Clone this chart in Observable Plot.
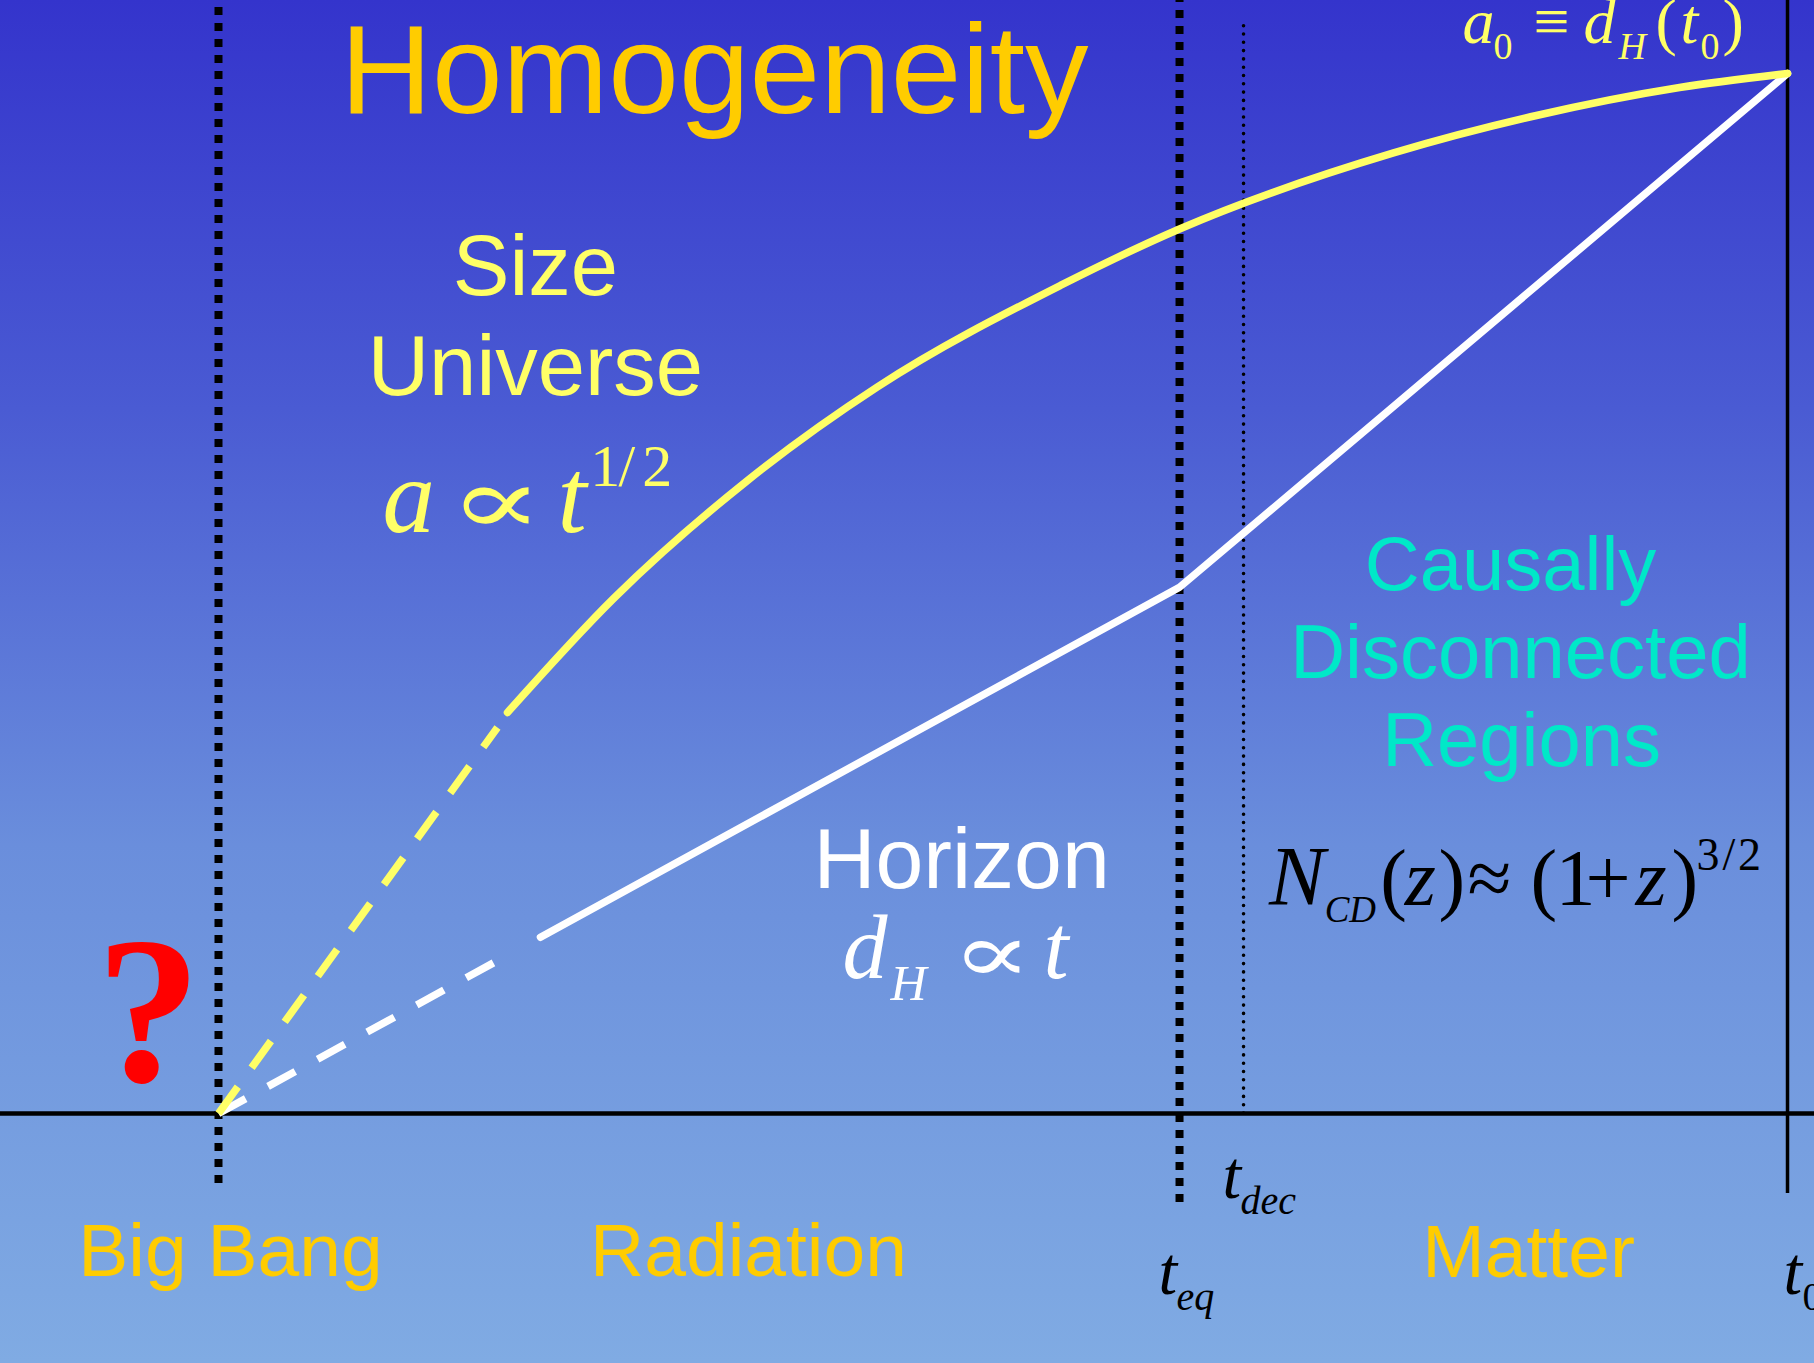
<!DOCTYPE html>
<html>
<head>
<meta charset="utf-8">
<script src="https://cdn.jsdelivr.net/npm/d3@7"></script>
<script src="https://cdn.jsdelivr.net/npm/@observablehq/plot@0.6"></script>
<style>
  html, body { margin: 0; padding: 0; background: #80abe3; overflow: hidden; }
  #chart svg { display: block; }
</style>
</head>
<body>
<div id="chart"></div>
<script>
// ---------- data (time in units where Big Bang = 0 and t0 = 100; size with a0 = 100) ----------
const epochNames = ["Big Bang", "t_eq", "t_dec", "t_0"];
const epochTime = [0, 61.25, 65.33, 100];

// Size of the universe: early (dashed) extrapolation, then solid curve
const sizeEarlyTime = [0, 17.78];
const sizeEarlyValue = [0, 37.12];
const sizeTime  = [18.42, 25.18, 33.72, 42.0, 53.66, 61.25, 74.89, 84.0, 93.12, 100];
const sizeValue = [38.56, 49.52, 60.87, 69.87, 79.62, 85.05, 92.36, 95.96, 98.65, 100];

// Horizon: early (dashed) part, radiation era line, matter era line
const horizonEarlyTime = [0, 17.97];
const horizonEarlyValue = [0, 14.85];
const horizonTime  = [20.52, 61.25, 100];
const horizonValue = [16.95, 50.6, 100];

const eraNames = ["Big Bang", "Radiation", "Matter"];
const regionLines = ["Causally", "Disconnected", "Regions"];
const sizeLines = ["Size", "Universe"];

// ---------- derived tables ----------
const sizeEarly = sizeEarlyTime.map((t, i) => ({t, a: sizeEarlyValue[i]}));
const sizeCurve = sizeTime.map((t, i) => ({t, a: sizeValue[i]}));
const horizonEarly = horizonEarlyTime.map((t, i) => ({t, a: horizonEarlyValue[i]}));
const horizon = horizonTime.map((t, i) => ({t, a: horizonValue[i]}));

// ---------- annotation layout ----------
const GOLD = "#ffcc00", YEL = "#ffff66", CYAN = "#00e8c8";
const F = {
  sans: {fontFamily: "'Liberation Sans', Arial, sans-serif"},
  serif: {fontFamily: "'Liberation Serif', 'Times New Roman', serif"},
  sym: {fontFamily: "'DejaVu Serif', serif"},
  it: {fontFamily: "'Liberation Serif', 'Times New Roman', serif", fontStyle: "italic"},
  bold: {fontFamily: "'Liberation Serif', 'Times New Roman', serif", fontWeight: "bold"}
};
const labels = [
  {text: "Homogeneity", t: 31.6, a: 96.2, size: 127, f: "sans", fill: GOLD, anchor: "middle"},
  {text: sizeLines[0], t: 20.2, a: 78.75, size: 85, f: "sans", fill: YEL, anchor: "middle"},
  {text: sizeLines[1], t: 20.2, a: 69.13, size: 85, f: "sans", fill: YEL, anchor: "middle"},
  {text: "a", t: 10.45, a: 55.87, size: 105, f: "it", fill: YEL},
  {text: "∝", t: 14.66, a: 55.72, size: 95, f: "sym", fill: YEL, sx: 1.48},
  {text: "t", t: 21.61, a: 55.87, size: 105, f: "it", fill: YEL},
  {text: "1", t: 23.7, a: 60.3, size: 60, f: "serif", fill: YEL},
  {text: "/", t: 25.5, a: 60.3, size: 60, f: "serif", fill: YEL},
  {text: "2", t: 27.0, a: 60.3, size: 60, f: "serif", fill: YEL},
  {text: "Horizon", t: 47.36, a: 21.73, size: 86, f: "sans", fill: "white", anchor: "middle"},
  {text: "d", t: 39.77, a: 12.98, size: 90, f: "it", fill: "white"},
  {text: "H", t: 42.83, a: 10.87, size: 50, f: "it", fill: "white"},
  {text: "∝", t: 46.72, a: 12.69, size: 84, f: "sym", fill: "white", sx: 1.42},
  {text: "t", t: 52.58, a: 12.98, size: 90, f: "it", fill: "white"},
  {text: regionLines[0], t: 82.35, a: 50.29, size: 76, f: "sans", fill: CYAN, anchor: "middle"},
  {text: regionLines[1], t: 82.98, a: 41.92, size: 76, f: "sans", fill: CYAN, anchor: "middle"},
  {text: regionLines[2], t: 83.05, a: 33.37, size: 76, f: "sans", fill: CYAN, anchor: "middle"},
  {text: "N", t: 66.95, a: 20.0, size: 84, f: "it", fill: "black"},
  {text: "CD", t: 70.5, a: 18.4, size: 37, f: "it", fill: "black"},
  {text: "(", t: 74.05, a: 20.0, size: 80, f: "serif", fill: "black"},
  {text: "z", t: 75.6, a: 20.0, size: 80, f: "it", fill: "black"},
  {text: ")", t: 77.76, a: 20.0, size: 80, f: "serif", fill: "black"},
  {text: "≈", t: 79.6, a: 20.0, size: 80, f: "serif", fill: "black"},
  {text: "(", t: 83.62, a: 20.0, size: 80, f: "serif", fill: "black"},
  {text: "1", t: 85.21, a: 20.0, size: 80, f: "serif", fill: "black"},
  {text: "+", t: 87.13, a: 20.0, size: 80, f: "serif", fill: "black"},
  {text: "z", t: 90.31, a: 20.0, size: 80, f: "it", fill: "black"},
  {text: ")", t: 92.61, a: 20.0, size: 80, f: "serif", fill: "black"},
  {text: "3", t: 94.2, a: 23.4, size: 46, f: "serif", fill: "black"},
  {text: "/", t: 95.85, a: 23.4, size: 46, f: "serif", fill: "black"},
  {text: "2", t: 96.85, a: 23.4, size: 46, f: "serif", fill: "black"},
  {text: "a", t: 79.29, a: 102.98, size: 64, f: "it", fill: YEL},
  {text: "0", t: 81.26, a: 101.44, size: 38, f: "serif", fill: YEL},
  {text: "≡", t: 83.81, a: 102.98, size: 64, f: "serif", fill: YEL},
  {text: "d", t: 87.0, a: 102.98, size: 64, f: "it", fill: YEL},
  {text: "H", t: 89.23, a: 101.44, size: 38, f: "it", fill: YEL},
  {text: "(", t: 91.59, a: 102.98, size: 64, f: "serif", fill: YEL},
  {text: "t", t: 93.18, a: 102.98, size: 64, f: "it", fill: YEL},
  {text: "0", t: 94.46, a: 101.44, size: 38, f: "serif", fill: YEL},
  {text: ")", t: 95.86, a: 102.98, size: 64, f: "serif", fill: YEL},
  {text: "?", t: -4.46, a: 3.17, size: 210, f: "bold", fill: "red", anchor: "middle"},
  {text: eraNames[0], t: 0.76, a: -15.58, size: 75, f: "sans", fill: GOLD, anchor: "middle"},
  {text: eraNames[1], t: 33.78, a: -15.58, size: 75, f: "sans", fill: GOLD, anchor: "middle"},
  {text: eraNames[2], t: 83.5, a: -15.77, size: 75, f: "sans", fill: GOLD, anchor: "middle"},
  {text: "t", t: 63.99, a: -8.08, size: 67, f: "it", fill: "black"},
  {text: "dec", t: 65.14, a: -9.62, size: 40, f: "it", fill: "black"},
  {text: "t", t: 59.91, a: -17.31, size: 67, f: "it", fill: "black"},
  {text: "eq", t: 61.06, a: -18.94, size: 40, f: "it", fill: "black"},
  {text: "t", t: 99.75, a: -17.31, size: 67, f: "it", fill: "black"},
  {text: "0", t: 100.96, a: -18.94, size: 40, f: "serif", fill: "black"}
];

const textMarks = labels.map(l => Plot.text([l], {
  x: "t", y: "a", text: "text",
  fontSize: l.size, fill: l.fill,
  textAnchor: l.anchor || "start", lineAnchor: "bottom",
  ...F[l.f]
}));

const chart = Plot.plot({
  width: 1814,
  height: 1363,
  margin: 0,
  x: {domain: [-13.894, 101.72], axis: null},
  y: {domain: [-24.04, 107.02], axis: null},
  style: {
    background: "linear-gradient(to bottom, #3434cc 0%, #4a5bd3 30%, #6a8edc 62%, #80abe3 100%)",
    overflow: "hidden"
  },
  marks: [
    // horizontal time axis
    Plot.ruleY([0], {stroke: "black", strokeWidth: 4.5}),
    // Big Bang and t_eq boundaries (square dotted)
    Plot.ruleX([epochTime[0]], {y1: -6.73, y2: 107.5, stroke: "black", strokeWidth: 8, strokeDasharray: "8,8"}),
    Plot.ruleX([epochTime[1]], {y1: -8.56, y2: 107.5, stroke: "black", strokeWidth: 8, strokeDasharray: "8,8"}),
    // decoupling (fine dots)
    Plot.ruleX([epochTime[2]], {y1: 0, y2: 104.8, stroke: "black", strokeWidth: 3.6, strokeDasharray: "0,8.3", strokeLinecap: "round"}),
    // today
    Plot.ruleX([epochTime[3]], {y1: -7.69, y2: 107.5, stroke: "black", strokeWidth: 3.5}),
    // horizon
    Plot.line(horizonEarly, {x: "t", y: "a", stroke: "white", strokeWidth: 7.5, strokeDasharray: "31,25.5", strokeLinecap: "butt"}),
    Plot.line(horizon, {x: "t", y: "a", stroke: "white", strokeWidth: 7.5, strokeLinejoin: "miter"}),
    // size of universe
    Plot.line(sizeEarly, {x: "t", y: "a", stroke: YEL, strokeWidth: 7.5, strokeDasharray: "33,23.5", strokeLinecap: "butt"}),
    Plot.line(sizeCurve, {x: "t", y: "a", stroke: YEL, strokeWidth: 7.5, curve: "monotone-x"}),
    ...textMarks
  ]
});

// widen the proportionality glyphs horizontally (the original uses a wide ∝)
const widen = new Map(labels.filter(l => l.sx).map(l => [l.text + "|" + l.size, l.sx]));
d3.select(chart).selectAll("text").each(function () {
  const key = this.textContent + "|" + parseFloat(this.getAttribute("font-size") || this.parentNode.getAttribute("font-size"));
  if (widen.has(key)) {
    const tr = this.getAttribute("transform") || "";
    this.setAttribute("transform", tr + ` scale(${widen.get(key)},1)`);
  }
});
document.getElementById("chart").appendChild(chart);
</script>
</body>
</html>
